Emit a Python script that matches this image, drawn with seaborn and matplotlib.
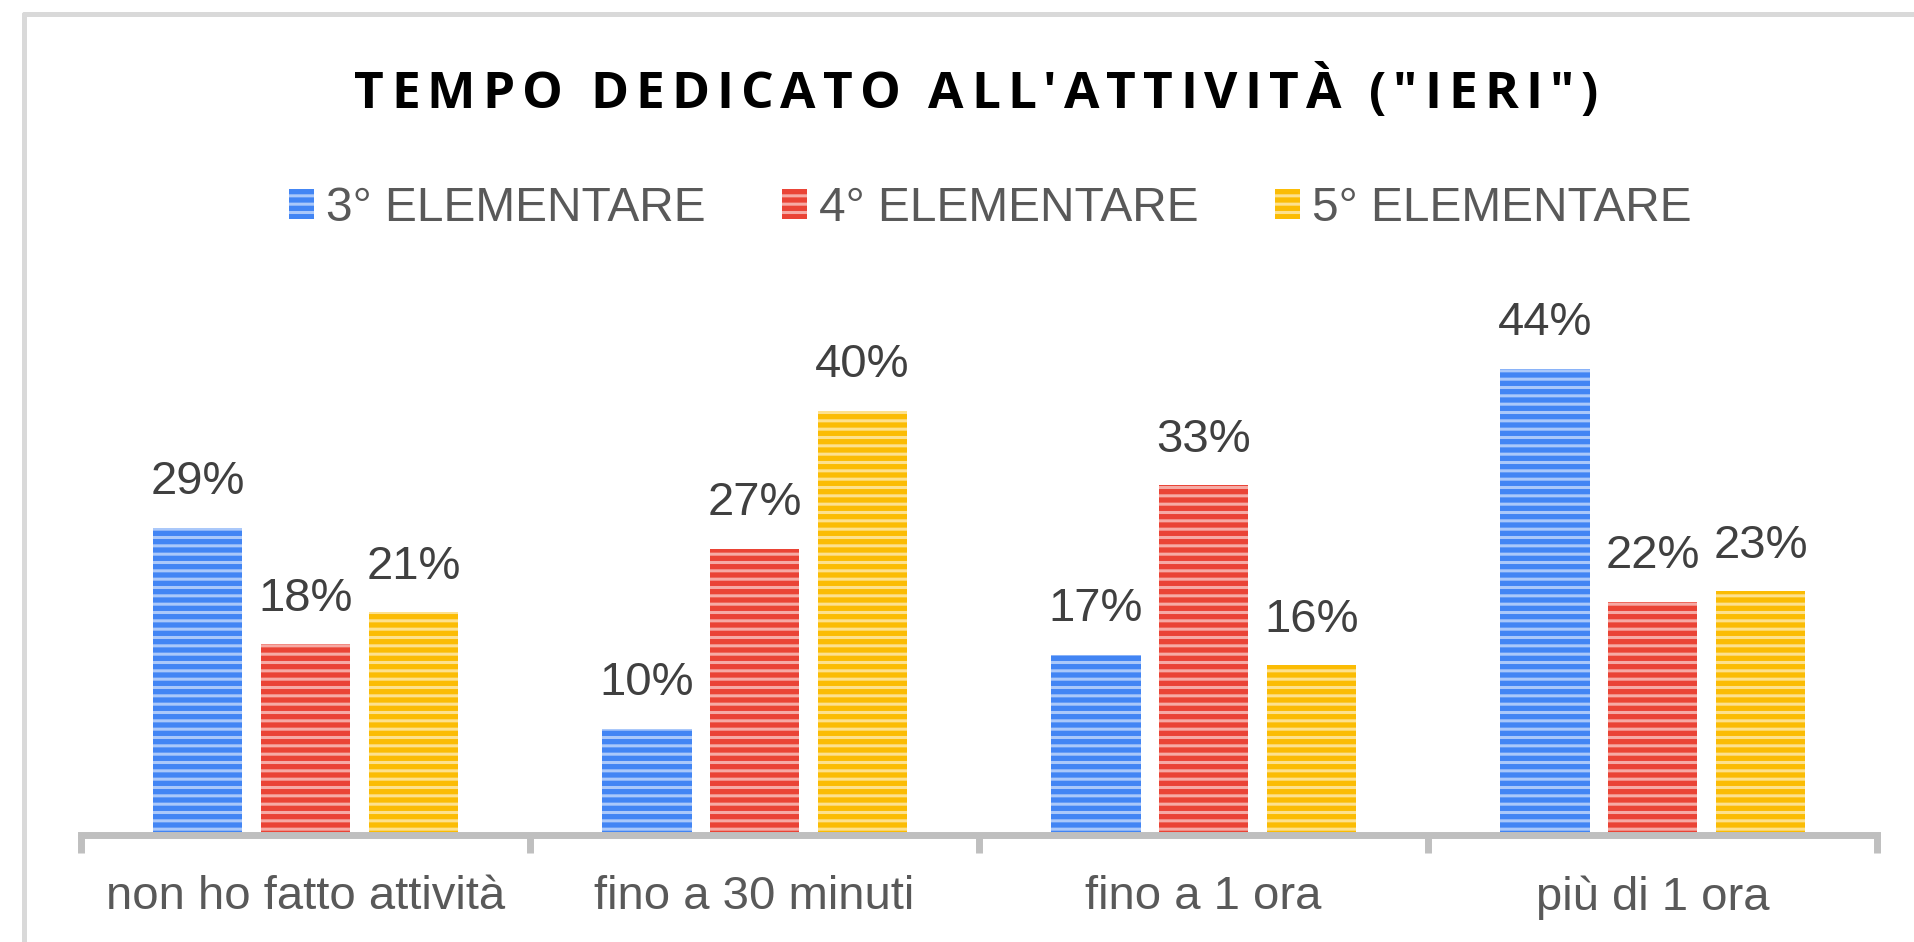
import pandas as pd
import matplotlib.pyplot as plt
import matplotlib.colors as mcolors
from matplotlib.lines import Line2D
import seaborn as sns

categories = ['non ho fatto attività', 'fino a 30 minuti', 'fino a 1 ora', 'più di 1 ora']
classes = ['3° ELEMENTARE', '4° ELEMENTARE', '5° ELEMENTARE']
terza = [0.29, 0.10, 0.17, 0.44]
quarta = [0.18, 0.27, 0.33, 0.22]
quinta = [0.21, 0.40, 0.16, 0.23]
colors = ['#4285F4', '#EA4335', '#FBBC04']
title = 'TEMPO DEDICATO ALL\'ATTIVITÀ ("IERI")'


def lighten(c, amount):
    r, g, b = mcolors.to_rgb(c)
    return (r + (1 - r) * amount, g + (1 - g) * amount, b + (1 - b) * amount)


def spaced_title(fig, text, xc, yc, total_px, **kw):
    # matplotlib has no letter spacing, so place the glyphs one by one
    rend = fig.canvas.get_renderer()

    def width(s):
        t = fig.text(0, 0, s, **kw)
        w = t.get_window_extent(rend).width
        t.remove()
        return w

    space_w = width('x x') - width('xx')
    widths = [space_w if ch == ' ' else width(ch) for ch in text]
    sp = (total_px - sum(widths)) / (len(text) - 1)
    W = fig.bbox.width
    x = xc * W - total_px / 2
    for ch, w in zip(text, widths):
        if ch != ' ':
            fig.text(x / W, yc, ch, ha='left', va='center', **kw)
        x += w + sp


rows = []
for cls, vals in zip(classes, [terza, quarta, quinta]):
    for cat, v in zip(categories, vals):
        rows.append({'categoria': cat, 'classe': cls, 'valore': v})
df = pd.DataFrame(rows)

sns.set_style('white')
plt.rcParams['font.family'] = ['Liberation Sans', 'DejaVu Sans']
plt.rcParams['hatch.linewidth'] = 2.2

fig = plt.figure(figsize=(19.15, 9.42), dpi=100)
ax = fig.add_axes([0.0423, 0.1136, 0.938, 0.5626])

sns.barplot(data=df, x='categoria', y='valore', hue='classe', order=categories,
            hue_order=classes, palette=colors, width=0.72, gap=0.17,
            legend=False, ax=ax)

# striped fill like the original
for cont, col in zip(ax.containers, colors):
    for bar in cont.patches:
        bar.set_facecolor(col)
        bar.set_edgecolor(lighten(col, 0.55))
        bar.set_linewidth(0)
        bar.set_hatch('--')
    ax.bar_label(cont, labels=[f'{v * 100:.0f}%' for v in cont.datavalues],
                 padding=17, fontsize=34, color='#404040')

ax.set_xlim(-0.5, 3.5)
ax.set_ylim(0, 0.5)
ax.set_xlabel('')
ax.set_ylabel('')
ax.set_yticks([])
for s in ['top', 'right', 'left']:
    ax.spines[s].set_visible(False)
ax.spines['bottom'].set_color('#BFBFBF')
ax.spines['bottom'].set_linewidth(5)
ax.set_xticks([-0.5, 0.5, 1.5, 2.5, 3.5], minor=True)
ax.tick_params(axis='x', which='minor', bottom=True, length=13, width=5,
               color='#BFBFBF', direction='out')
ax.tick_params(axis='x', which='major', bottom=True, length=0, pad=29,
               labelsize=34, labelcolor='#595959')

handles = [c.patches[0] for c in ax.containers]
fig.legend(handles, classes, loc='center', bbox_to_anchor=(0.517, 0.779), ncol=3,
           frameon=False, fontsize=34.5, labelcolor='#595959', handlelength=0.52,
           handleheight=0.6, handletextpad=0.25, columnspacing=1.6)

spaced_title(fig, title, 0.5097, 0.899, 1244, fontsize=37, fontweight='bold',
             color='black', family=['Open Sans', 'DejaVu Sans'])

# light grey frame around the chart area
fig.add_artist(Line2D([24 / 1915, 1.0], [1 - 14 / 942] * 2, color='#D9D9D9', lw=3.6,
                      transform=fig.transFigure))
fig.add_artist(Line2D([24 / 1915] * 2, [0.0, 1 - 14 / 942], color='#D9D9D9', lw=3.6,
                      transform=fig.transFigure))

fig.savefig('out.png', dpi=100)
